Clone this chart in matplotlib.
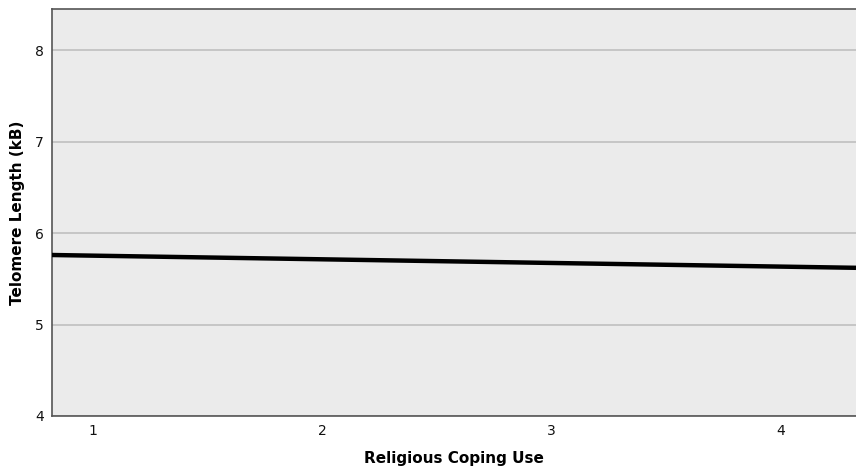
import matplotlib.pyplot as plt

# ── Data ─────────────────────────────────────────────────────────────────────
coping_use   = [0.82, 4.33]
telomere_len = [5.76, 5.62]

x_ticks = [1, 2, 3, 4]
y_ticks = [4, 5, 6, 7, 8]

# ── Plot ─────────────────────────────────────────────────────────────────────
BG   = '#ebebeb'
GRID = '#bcbcbc'

fig = plt.figure(figsize=(8.56, 4.71), dpi=100)
ax  = fig.add_axes([0.0607, 0.1168, 0.9393, 0.8642])
ax.set_facecolor(BG)

ax.plot(coping_use, telomere_len, color='black', linewidth=3.2, solid_capstyle='butt', zorder=3)

ax.set_xlim(0.82, 4.33)
ax.set_ylim(4, 8.45)
ax.set_xticks(x_ticks)
ax.set_yticks(y_ticks)
ax.tick_params(length=0, labelsize=10, pad=6, colors='#111111')

ax.grid(axis='y', color=GRID, linewidth=1.1, zorder=1)
ax.grid(axis='x', visible=False)
ax.set_axisbelow(True)

for side in ['left', 'bottom', 'top']:
    ax.spines[side].set_color('#555555')
    ax.spines[side].set_linewidth(1.2)
ax.spines['right'].set_visible(False)

ax.set_xlabel('Religious Coping Use', fontsize=11, fontweight='bold', labelpad=9)
ax.set_ylabel('Telomere Length (kB)', fontsize=11, fontweight='bold', labelpad=7)

plt.savefig('out.png', dpi=100)
